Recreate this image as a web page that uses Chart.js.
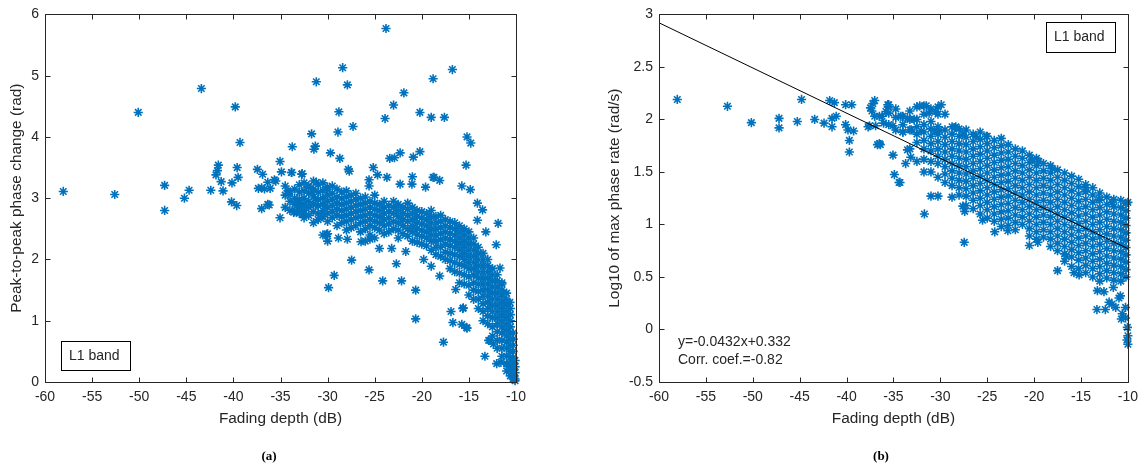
<!DOCTYPE html>
<html>
<head>
<meta charset="utf-8">
<script src="https://cdn.jsdelivr.net/npm/chart.js@4.4.1/dist/chart.umd.min.js"></script>
<style>
  html, body { margin: 0; padding: 0; background: #fff; }
  #wrap { position: relative; width: 1145px; height: 468px; }
  canvas { position: absolute; top: 0; }
  #chartA { left: 0; }
  #chartB { left: 572px; }
</style>
</head>
<body>
<div id="wrap">
  <canvas id="chartA" width="572" height="468"></canvas>
  <canvas id="chartB" width="573" height="468"></canvas>
</div>
<script>
// ---- panel (a): peak-to-peak phase change vs fading depth ----
const aScatter = [
  [-58.06,3.11],[-52.6,3.06],[-50.1,4.40],[-47.3,3.21],[-47.3,2.80],[-45.2,3.00],[-44.7,3.13],[-43.4,4.79],[-42.4,3.13],
  [-41.6,3.54],[-41.7,3.45],[-41.85,3.38],[-41.3,3.27],[-41.1,3.12],[-40.15,3.25],[-40.2,2.94],[-39.65,2.88],[-39.8,4.49],
  [-39.6,3.50],[-39.5,3.34],[-39.3,3.91],[-37.45,3.47],[-36.9,3.39],[-37.35,3.16],[-37.0,3.17],[-36.7,3.15],[-36.35,3.26],
  [-36.1,3.16],[-35.65,3.30],[-35.5,3.28],[-35.05,3.60],[-34.9,3.43],[-37.0,2.83],[-36.35,2.90],[-36.2,2.89],[-35.05,2.68],
  [-34.2,3.12],[-34.15,3.07],[-33.8,3.42],[-33.75,3.84],[-32.7,3.40],[-33.6,2.77],[-33.3,2.79],[-31.7,4.05],[-31.3,3.85],
  [-31.45,3.80],[-29.7,3.74],[-31.2,4.90],[-28.4,5.13],[-27.9,4.85],[-23.8,5.77],[-18.8,4.95],[-16.75,5.10],[-21.9,4.72],
  [-23.0,4.52],[-28.8,4.41],[-23.9,4.30],[-20.2,4.40],[-19.0,4.32],[-17.6,4.32],[-28.9,4.08],[-27.3,4.17],[-15.2,4.00],
  [-14.8,3.90],[-28.7,3.65],[-23.4,3.65],[-22.9,3.66],[-22.3,3.74],[-20.9,3.67],[-20.2,3.76],[-15.3,3.54],[-27.8,3.47],
  [-27.7,3.44],[-25.15,3.50],[-24.7,3.38],[-23.7,3.34],[-21.0,3.35],[-21.05,3.23],[-22.3,3.23],[-18.7,3.34],[-18.1,3.29],
  [-19.6,3.18],[-15.75,3.20],[-14.85,3.14],[-33.85,3.42],[-32.75,3.39],[-25.6,3.30],[-25.6,3.20],[-14.1,2.92],[-13.55,2.81],
  [-14.1,2.64],[-11.9,2.59],[-13.2,2.45],[-29.9,1.54],[-29.3,1.74],[-27.45,1.99],[-25.6,1.83],[-24.15,1.65],[-22.15,1.65],
  [-22.7,1.93],[-20.65,1.50],[-20.65,1.03],[-19.8,2.00],[-19.0,1.89],[-17.7,0.65],[-16.9,1.15],[-16.7,0.97],[-15.65,1.20],
  [-15.75,0.94],[-15.2,0.88],[-16.4,1.51],[-13.3,0.42],[-12.9,0.68],[-12.4,0.62],[-12.05,0.30],[-11.6,0.32],[-10.8,0.25],
  [-10.65,1.30],[-11.5,1.62],[-11.7,1.86],[-12.1,2.24],[-30.0,2.42],[-28.85,2.35],[-27.9,2.33],[-26.45,2.29],[-25.5,2.33],
  [-24.5,2.18],[-23.2,2.18],[-21.7,2.13],[-18.1,1.73],[-15.6,1.21],[-15.25,0.89],[-12.75,0.68],[-32.5,2.75],[-18.8,3.34],
  [-30.1,3.15],[-31.2,3.26],[-32.05,3.18],[-31.6,3.10],[-31.3,2.99],[-31.0,2.88],[-30.6,2.70],[-33.3,2.94],[-33.0,2.92],
  [-32.6,2.74],[-30.1,2.41]
];
// dense band of (a): [fading depth, [phase change values ...]]
const aBand = [
  [-34.5,[3.2,3.05,2.85]],[-34,[3.1,2.95,2.8]],[-33.5,[3.15,3.0,2.9,2.78]],[-33,[3.22,3.1,2.98,2.85,2.75]],
  [-32.5,[3.25,3.12,3.0,2.9,2.8,2.68]],[-32,[3.2,3.08,2.95,2.85,2.72]],[-31.5,[3.28,3.15,3.02,2.9,2.78,2.6]],
  [-31,[3.22,3.1,2.98,2.88,2.75,2.65]],[-30.5,[3.25,3.12,3.0,2.9,2.8,2.7,2.4]],[-30,[3.18,3.05,2.95,2.85,2.75,2.62,2.3]],
  [-29.5,[3.2,3.08,2.98,2.88,2.78,2.68]],[-29,[3.15,3.02,2.92,2.82,2.72,2.55]],[-28.5,[3.1,3.0,2.9,2.8,2.7,2.6]],
  [-28,[3.12,3.02,2.92,2.82,2.72,2.62,2.48]],[-27.5,[3.05,2.95,2.85,2.75,2.65,2.52]],[-27,[3.08,2.98,2.88,2.78,2.68,2.55]],
  [-26.5,[3.0,2.9,2.8,2.7,2.6,2.45]],[-26,[3.02,2.92,2.82,2.72,2.62,2.5,2.3]],[-25.5,[2.95,2.85,2.75,2.65,2.55,2.4]],
  [-25,[3.05,2.92,2.82,2.72,2.62,2.52,2.35]],[-24.5,[2.9,2.8,2.7,2.6,2.48]],[-24,[2.95,2.85,2.75,2.65,2.55,2.42]],
  [-23.5,[2.88,2.78,2.68,2.58,2.45]],[-23,[2.95,2.85,2.75,2.62,2.5]],[-22.5,[2.9,2.8,2.7,2.6,2.48,2.35]],
  [-22,[2.85,2.75,2.65,2.55,2.42]],[-21.5,[2.92,2.82,2.72,2.62,2.5,2.38]],[-21,[2.85,2.75,2.65,2.55,2.45,2.3]],
  [-20.5,[2.8,2.7,2.6,2.5,2.4,2.28]],[-20,[2.78,2.68,2.58,2.48,2.38,2.25]],[-19.5,[2.75,2.65,2.55,2.45,2.35,2.22]],
  [-19,[2.8,2.7,2.6,2.5,2.4,2.3,2.15]],[-18.5,[2.7,2.6,2.5,2.4,2.3,2.2,2.08]],[-18,[2.72,2.62,2.52,2.42,2.32,2.2,2.05]],
  [-17.5,[2.65,2.55,2.45,2.35,2.25,2.12,2.0]],[-17,[2.62,2.52,2.42,2.32,2.22,2.1,1.98,1.85]],
  [-16.5,[2.6,2.5,2.4,2.3,2.2,2.08,1.95,1.8]],[-16,[2.55,2.45,2.35,2.25,2.15,2.05,1.92,1.78,1.62]],
  [-15.5,[2.5,2.4,2.3,2.2,2.1,2.0,1.9,1.75,1.6]],[-15,[2.45,2.35,2.25,2.15,2.05,1.95,1.85,1.72,1.58,1.42]],
  [-14.5,[2.35,2.25,2.15,2.05,1.95,1.85,1.75,1.62,1.5,1.35]],[-14,[2.2,2.1,2.0,1.9,1.8,1.7,1.6,1.48,1.35,1.2]],
  [-13.5,[2.1,2.0,1.9,1.8,1.7,1.6,1.5,1.4,1.28,1.15,1.0]],[-13,[2.0,1.9,1.8,1.7,1.6,1.5,1.4,1.3,1.2,1.08,0.95]],
  [-12.5,[1.85,1.75,1.65,1.55,1.45,1.35,1.25,1.15,1.05,0.9,0.75]],
  [-12,[1.75,1.65,1.55,1.45,1.35,1.25,1.15,1.05,0.95,0.82,0.68,0.55]],
  [-11.5,[1.6,1.5,1.4,1.3,1.2,1.1,1.0,0.9,0.8,0.68,0.55,0.42]],
  [-11,[1.45,1.35,1.25,1.15,1.05,0.95,0.85,0.75,0.65,0.55,0.42,0.3,0.18]],
  [-10.6,[1.2,1.1,1.0,0.9,0.8,0.7,0.6,0.5,0.4,0.3,0.2,0.1]],
  [-10.3,[0.8,0.7,0.6,0.5,0.4,0.3,0.2,0.12,0.05]],[-10.1,[0.35,0.25,0.15,0.05,0.02]]
];

// ---- panel (b): log10 of max phase rate vs fading depth ----
const bScatter = [
  [-58.05,2.19],[-52.7,2.125],[-50.15,1.97],[-47.2,2.01],[-47.2,1.92],[-45.25,1.98],[-44.8,2.19],[-43.4,2.0],[-42.4,1.965],
  [-41.8,2.18],[-41.3,2.16],[-41.55,2.01],[-41.1,2.03],[-41.55,1.93],[-40.1,2.14],[-39.45,2.14],[-40.1,1.95],[-39.85,1.90],
  [-39.25,1.89],[-39.7,1.80],[-39.7,1.69],[-37.45,2.11],[-37.2,2.15],[-37.0,2.18],[-37.3,2.08],[-37.0,2.03],[-37.55,1.94],
  [-36.9,1.94],[-36.7,1.76],[-36.2,2.03],[-36.05,1.965],[-35.55,2.12],[-35.8,2.075],[-36.5,1.77],[-35.05,1.94],[-35.05,1.66],
  [-34.9,1.475],[-34.4,1.40],[-35.6,2.14],[-36.5,2.03],[-37.7,1.93],[-36.4,1.76],[-34.3,1.40],[-32.2,2.13],[-31.5,2.13],
  [-29.9,2.14],[-31.2,2.06],[-30.5,2.075],[-34.2,2.03],[-33.5,2.01],[-32.8,2.0],[-34.0,1.88],[-33.1,1.90],[-32.05,1.89],
  [-33.5,1.71],[-33.15,1.64],[-33.7,1.58],[-31.7,1.10],[-30.6,1.89],[-30.1,1.90],[-28.5,1.92],[-27.6,1.855],[-28.35,1.93],
  [-26.2,1.84],[-25.1,1.84],[-20.2,1.62],[-19.5,1.60],[-18.05,1.53],[-14.5,1.35],[-13.1,1.24],[-11.7,1.21],[-10.0,1.21],
  [-27.4,1.125],[-27.6,1.175],[-25.5,1.04],[-24.2,0.93],[-22.8,0.94],[-27.45,0.83],[-20.5,0.80],[-19.6,0.83],[-17.5,0.56],
  [-15.75,0.54],[-15.2,0.52],[-16.6,0.70],[-13.25,0.37],[-12.55,0.36],[-11.55,0.40],[-10.8,0.32],[-12.0,0.26],[-13.3,0.19],
  [-12.4,0.19],[-11.3,0.21],[-10.6,0.15],[-10.7,0.10],[-10.25,0.21],[-10.05,0.02],[-10.0,-0.06],[-10.0,-0.14],[-10.1,-0.10],
  [-10.95,0.30],[-10.25,0.11],[-11.7,0.24]
];
const bBand = [
  [-35.5,[2.14,2.06,1.95]],[-34.75,[2.1,2.02,1.9]],[-34,[2.03,1.95,1.88]],[-33.25,[2.08,2.0,1.9,1.72]],
  [-32.5,[2.12,2.0,1.93,1.86,1.78,1.6]],[-31.75,[2.13,2.05,1.95,1.88,1.8,1.72,1.62,1.5]],
  [-31,[2.1,1.98,1.91,1.84,1.77,1.7,1.6,1.5,1.27]],[-30.25,[2.12,2.05,1.93,1.86,1.79,1.72,1.65,1.58,1.45,1.27]],
  [-29.5,[2.05,1.9,1.83,1.76,1.69,1.62,1.55,1.48,1.4]],[-28.75,[1.93,1.86,1.79,1.72,1.65,1.58,1.51,1.44,1.37,1.26]],
  [-28,[1.91,1.84,1.77,1.7,1.63,1.56,1.49,1.42,1.35,1.28]],
  [-27.25,[1.9,1.83,1.76,1.69,1.62,1.55,1.48,1.41,1.34,1.27,1.18]],
  [-26.5,[1.86,1.79,1.72,1.65,1.58,1.51,1.44,1.37,1.3,1.23,1.15]],
  [-25.75,[1.88,1.81,1.74,1.67,1.6,1.53,1.46,1.39,1.32,1.25,1.18,1.1]],
  [-25,[1.84,1.77,1.7,1.63,1.56,1.49,1.42,1.35,1.28,1.21,1.14,1.06]],
  [-24.25,[1.8,1.73,1.66,1.59,1.52,1.45,1.38,1.31,1.24,1.17,1.1,1.03]],
  [-23.5,[1.82,1.75,1.68,1.61,1.54,1.47,1.4,1.33,1.26,1.19,1.12,1.05,0.98]],
  [-22.75,[1.76,1.69,1.62,1.55,1.48,1.41,1.34,1.27,1.2,1.13,1.06,0.99]],
  [-22,[1.72,1.65,1.58,1.51,1.44,1.37,1.3,1.23,1.16,1.09,1.02,0.95]],
  [-21.25,[1.7,1.63,1.56,1.49,1.42,1.35,1.28,1.21,1.14,1.07,1.0]],
  [-20.5,[1.66,1.59,1.52,1.45,1.38,1.31,1.24,1.17,1.1,1.03,0.96,0.89]],
  [-19.75,[1.63,1.56,1.49,1.42,1.35,1.28,1.21,1.14,1.07,1.0,0.93,0.86]],
  [-19,[1.58,1.51,1.44,1.37,1.3,1.23,1.16,1.09,1.02,0.95,0.88]],
  [-18.25,[1.56,1.49,1.42,1.35,1.28,1.21,1.14,1.07,1.0,0.93,0.86,0.79]],
  [-17.5,[1.52,1.45,1.38,1.31,1.24,1.17,1.1,1.03,0.96,0.89,0.82,0.75]],
  [-16.75,[1.49,1.42,1.35,1.28,1.21,1.14,1.07,1.0,0.93,0.86,0.79,0.72,0.65]],
  [-16,[1.46,1.39,1.32,1.25,1.18,1.11,1.04,0.97,0.9,0.83,0.76,0.69,0.6]],
  [-15.25,[1.43,1.36,1.29,1.22,1.15,1.08,1.01,0.94,0.87,0.8,0.73,0.66,0.58]],
  [-14.5,[1.38,1.31,1.24,1.17,1.1,1.03,0.96,0.89,0.82,0.75,0.68,0.61,0.54]],
  [-13.75,[1.35,1.28,1.21,1.14,1.07,1.0,0.93,0.86,0.79,0.72,0.65,0.58,0.5]],
  [-13,[1.3,1.23,1.16,1.09,1.02,0.95,0.88,0.81,0.74,0.67,0.6,0.53,0.46]],
  [-12.25,[1.26,1.19,1.12,1.05,0.98,0.91,0.84,0.77,0.7,0.63,0.56,0.49]],
  [-11.5,[1.24,1.17,1.1,1.03,0.96,0.89,0.82,0.75,0.68,0.61,0.54,0.47]],
  [-10.75,[1.23,1.16,1.09,1.02,0.95,0.88,0.81,0.74,0.67,0.6,0.53,0.46]],
  [-10.2,[1.2,1.13,1.06,0.99,0.92,0.85,0.78,0.71,0.64,0.57,0.5]]
];
// fitted line end points
const fitX = [-60, -10];
const fitY = [2.92, 0.77];

const BLUE = '#0072BD';
const AXIS = '#262626';
const FONT = 'Liberation Sans, Arial, Helvetica, sans-serif';

function toPoints(pairs) {
  return pairs.map(([x, y]) => ({ x, y }));
}
function bandPoints(cols) {
  return cols.flatMap(([x, ys]) => ys.map(y => ({ x, y })));
}

// draws the matlab style box, inward ticks and the text notes
const frame = {
  id: 'frame',
  afterDraw(chart, args, opts) {
    const { ctx, chartArea: { left, right, top, bottom }, scales: { x, y } } = chart;
    const L = Math.round(left) + 0.5, R = Math.round(right) + 0.5;
    const T = Math.round(top) + 0.5, B = Math.round(bottom) + 0.5;
    ctx.save();
    ctx.strokeStyle = AXIS;
    ctx.lineWidth = 1;
    ctx.beginPath();
    ctx.rect(L, T, R - L, B - T);
    x.ticks.forEach(t => {
      const px = Math.round(x.getPixelForValue(t.value)) + 0.5;
      ctx.moveTo(px, B); ctx.lineTo(px, B - 5);
      ctx.moveTo(px, T); ctx.lineTo(px, T + 5);
    });
    y.ticks.forEach(t => {
      const py = Math.round(y.getPixelForValue(t.value)) + 0.5;
      ctx.moveTo(L, py); ctx.lineTo(L + 5, py);
      ctx.moveTo(R, py); ctx.lineTo(R - 5, py);
    });
    ctx.stroke();

    if (opts.box) {
      const b = opts.box;
      ctx.fillStyle = '#fff';
      ctx.fillRect(b.x, b.y, b.w, b.h);
      ctx.strokeStyle = '#000';
      ctx.strokeRect(b.x + 0.5, b.y + 0.5, b.w, b.h);
      ctx.fillStyle = AXIS;
      ctx.font = '14px ' + FONT;
      ctx.textBaseline = 'middle';
      ctx.textAlign = 'left';
      ctx.fillText(b.text, b.tx, b.ty);
    }
    (opts.lines || []).forEach(l => {
      ctx.fillStyle = AXIS;
      ctx.font = '14px ' + FONT;
      ctx.textBaseline = 'middle';
      ctx.textAlign = 'left';
      ctx.fillText(l.text, l.x, l.y);
    });
    if (opts.label) {
      ctx.fillStyle = '#000';
      ctx.font = 'bold 13px Liberation Serif, Times New Roman, serif';
      ctx.textBaseline = 'middle';
      ctx.textAlign = 'center';
      ctx.fillText(opts.label.text, opts.label.x, opts.label.y);
    }
    ctx.restore();
  }
};

function axes(yMin, yMax, yStep, yTitle, yWidth, yTitlePad) {
  const tickFont = { family: FONT, size: 14 };
  const titleFont = { family: FONT, size: 15.4 };
  return {
    x: {
      type: 'linear', min: -60, max: -10,
      grid: { display: false, drawTicks: false },
      border: { display: false },
      ticks: { stepSize: 5, color: AXIS, font: tickFont, padding: 7, callback: v => String(v) },
      title: { display: true, text: 'Fading depth (dB)', color: AXIS, font: titleFont, padding: { bottom: 40 } },
      afterFit: s => { s.height = 86; }
    },
    y: {
      type: 'linear', min: yMin, max: yMax,
      grid: { display: false, drawTicks: false },
      border: { display: false },
      ticks: { stepSize: yStep, color: AXIS, font: tickFont, padding: 6, callback: v => String(v) },
      title: { display: true, text: yTitle, color: AXIS, font: titleFont, padding: { top: yTitlePad } },
      afterFit: s => { s.width = yWidth; }
    }
  };
}

const starStyle = {
  pointStyle: 'star', pointRadius: 4.6, pointBorderWidth: 1.6,
  borderColor: BLUE, backgroundColor: BLUE, clip: false
};

new Chart(document.getElementById('chartA'), {
  type: 'scatter',
  data: {
    datasets: [{
      label: 'L1 band',
      data: toPoints(aScatter).concat(bandPoints(aBand)),
      ...starStyle
    }]
  },
  options: {
    responsive: false, animation: false, events: [],
    layout: { padding: { left: 0, right: 56, top: 10, bottom: 0 } },
    plugins: {
      legend: { display: false }, tooltip: { enabled: false },
      frame: {
        box: { x: 61, y: 341, w: 69, h: 29, text: 'L1 band', tx: 69, ty: 356 },
        label: { text: '(a)', x: 269, y: 457 }
      }
    },
    scales: axes(0, 6, 1, 'Peak-to-peak phase change (rad)', 45, 8)
  },
  plugins: [frame]
});

new Chart(document.getElementById('chartB'), {
  type: 'scatter',
  data: {
    datasets: [{
      type: 'line',
      label: 'fit',
      data: fitX.map((x, i) => ({ x, y: fitY[i] })),
      borderColor: '#000', borderWidth: 1, pointRadius: 0, fill: false, order: 0
    }, {
      label: 'L1 band',
      data: toPoints(bScatter).concat(bandPoints(bBand)),
      order: 1,
      ...starStyle
    }]
  },
  options: {
    responsive: false, animation: false, events: [],
    layout: { padding: { left: 0, right: 16, top: 10, bottom: 0 } },
    plugins: {
      legend: { display: false }, tooltip: { enabled: false },
      frame: {
        box: { x: 474, y: 22, w: 69, h: 30, text: 'L1 band', tx: 482, ty: 37 },
        lines: [
          { text: 'y=-0.0432x+0.332', x: 106, y: 342 },
          { text: 'Corr. coef.=-0.82', x: 106, y: 360 }
        ],
        label: { text: '(b)', x: 309, y: 457 }
      }
    },
    scales: axes(-0.5, 3, 0.5, 'Log10 of max phase rate (rad/s)', 87, 34)
  },
  plugins: [frame]
});
</script>
</body>
</html>
